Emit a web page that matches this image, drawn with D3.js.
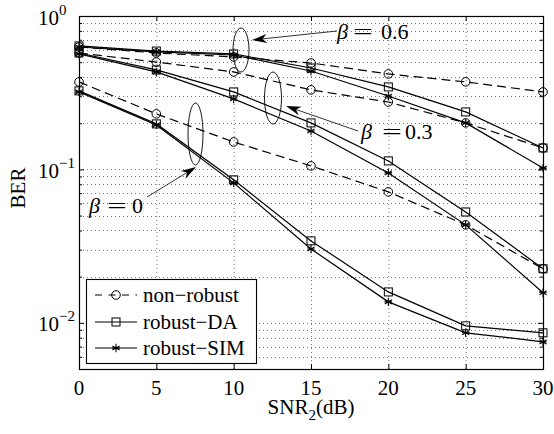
<!DOCTYPE html>
<html>
<head>
<meta charset="utf-8">
<script src="https://cdn.jsdelivr.net/npm/d3@7"></script>
<style>
  body { margin: 0; background: #fff; }
  text { font-family: "Liberation Serif", "Times New Roman", serif; fill: #000; }
</style>
</head>
<body>
<svg id="chart" width="554" height="434"></svg>
<script>
// data (BER vs SNR2)
const snr = [0, 5, 10, 15, 20, 25, 30];
const xTicks = [0, 5, 10, 15, 20, 25, 30];
const yMajor = [1, 0.1, 0.01];
const yExp = ["0", "\u22121", "\u22122"];

// beta = 0.6
const nonRobust06 = [0.628, 0.574, 0.541, 0.494, 0.419, 0.372, 0.320];
const robustDA06  = [0.638, 0.591, 0.566, 0.458, 0.345, 0.237, 0.138];
const robustSIM06 = [0.628, 0.583, 0.557, 0.438, 0.301, 0.201, 0.102];
// beta = 0.3
const nonRobust03 = [0.574, 0.501, 0.432, 0.330, 0.275, 0.201, 0.138];
const robustDA03  = [0.574, 0.445, 0.320, 0.201, 0.1136, 0.0528, 0.0225];
const robustSIM03 = [0.566, 0.432, 0.288, 0.178, 0.0949, 0.0435, 0.0157];
// beta = 0
const nonRobust0 = [0.372, 0.230, 0.151, 0.1054, 0.0714, 0.0435, 0.0225];
const robustDA0  = [0.325, 0.198, 0.0855, 0.0342, 0.0159, 0.00956, 0.00861];
const robustSIM0 = [0.320, 0.195, 0.0817, 0.0303, 0.0137, 0.00861, 0.00752];

const legendNames = ["non\u2212robust", "robust\u2212DA", "robust\u2212SIM"];

const svg = d3.select("#chart");
const pLeft = 79, pRight = 543, pTop = 16, pBottom = 369;

var x = d3.scaleLinear().domain([0, 30]).range([pLeft, pRight]);
var y = d3.scaleLog().domain([0.005, 1]).range([pBottom, pTop]);

// minor log ticks
var yMinor = [];
[0.001, 0.01, 0.1].forEach(function(d) {
  for (var k = 2; k <= 9; k++) {
    var v = d * k;
    if (v >= 0.005 && v < 1) yMinor.push(v);
  }
});
var yAll = yMajor.concat(yMinor);

// grid (dotted)
var grid = svg.append("g").attr("stroke", "#777").attr("stroke-width", 1).attr("stroke-dasharray", "1,3");
grid.selectAll("line.gx").data(xTicks.slice(1, -1)).enter().append("line")
  .attr("x1", d => x(d) + 0.5).attr("x2", d => x(d) + 0.5)
  .attr("y1", pTop).attr("y2", pBottom);
grid.selectAll("line.gy").data(yAll.filter(d => d < 1)).enter().append("line")
  .attr("x1", pLeft).attr("x2", pRight)
  .attr("y1", d => Math.round(y(d)) + 0.5).attr("y2", d => Math.round(y(d)) + 0.5);

// axes with inward ticks
function clean(g) { g.select(".domain").remove(); g.selectAll("text").remove(); g.selectAll("line").attr("stroke", "#000"); }
svg.append("g").attr("transform", "translate(0," + pBottom + ")")
  .call(d3.axisBottom(x).tickValues(xTicks).tickSizeInner(-5).tickSizeOuter(0)).call(clean);
svg.append("g").attr("transform", "translate(0," + pTop + ")")
  .call(d3.axisTop(x).tickValues(xTicks).tickSizeInner(-5).tickSizeOuter(0)).call(clean);
svg.append("g").attr("transform", "translate(" + pLeft + ",0)")
  .call(d3.axisLeft(y).tickValues(yMajor).tickSizeInner(-5).tickSizeOuter(0)).call(clean);
svg.append("g").attr("transform", "translate(" + pLeft + ",0)")
  .call(d3.axisLeft(y).tickValues(yMinor).tickSizeInner(-3).tickSizeOuter(0)).call(clean);
svg.append("g").attr("transform", "translate(" + pRight + ",0)")
  .call(d3.axisRight(y).tickValues(yMajor).tickSizeInner(-5).tickSizeOuter(0)).call(clean);
svg.append("g").attr("transform", "translate(" + pRight + ",0)")
  .call(d3.axisRight(y).tickValues(yMinor).tickSizeInner(-3).tickSizeOuter(0)).call(clean);

// frame
svg.append("rect").attr("x", pLeft + 0.5).attr("y", pTop + 0.5)
  .attr("width", pRight - pLeft).attr("height", pBottom - pTop)
  .attr("fill", "none").attr("stroke", "#000").attr("stroke-width", 1.2);

// tick labels
svg.selectAll("text.xt").data(xTicks).enter().append("text")
  .attr("x", d => x(d)).attr("y", 395).attr("text-anchor", "middle")
  .style("font-size", "21px").text(d => d);

yMajor.forEach(function(d, i) {
  var t = svg.append("text").attr("x", 38).attr("y", y(d) + 8.5).style("font-size", "21px");
  t.append("tspan").text("10");
  t.append("tspan").attr("dy", -10).style("font-size", "15px").text(yExp[i]);
});

// axis titles
var xl = svg.append("text").attr("x", 311).attr("y", 414).attr("text-anchor", "middle").style("font-size", "21px");
xl.append("tspan").text("SNR");
xl.append("tspan").attr("dy", 6).style("font-size", "15px").text("2");
xl.append("tspan").attr("dy", -6).text("(dB)");
svg.append("text").attr("transform", "translate(25,188) rotate(-90)")
  .attr("text-anchor", "middle").style("font-size", "21px").text("BER");

// series
const series = [
  { v: nonRobust06, dash: true,  m: "circle" },
  { v: robustDA06,  dash: false, m: "square" },
  { v: robustSIM06, dash: false, m: "star" },
  { v: nonRobust03, dash: true,  m: "circle" },
  { v: robustDA03,  dash: false, m: "square" },
  { v: robustSIM03, dash: false, m: "star" },
  { v: nonRobust0,  dash: true,  m: "circle" },
  { v: robustDA0,   dash: false, m: "square" },
  { v: robustSIM0,  dash: false, m: "star" }
];

var line = d3.line().x((d, i) => x(snr[i])).y(d => y(d));

function marker(g, type, cx, cy) {
  if (type === "circle") {
    g.append("circle").attr("cx", cx).attr("cy", cy).attr("r", 4.3)
      .attr("fill", "none").attr("stroke", "#000").attr("stroke-width", 1);
  } else if (type === "square") {
    g.append("rect").attr("x", cx - 4).attr("y", cy - 4).attr("width", 8).attr("height", 8)
      .attr("fill", "none").attr("stroke", "#000").attr("stroke-width", 1);
  } else {
    var r = 4.2, p = "";
    [90, 30, 150, 0].forEach(function(a) {
      var rad = a * Math.PI / 180;
      var rr = a === 0 ? r * 0.9 : r;
      p += "M" + (cx - rr * Math.cos(rad)) + "," + (cy - rr * Math.sin(rad)) +
           "L" + (cx + rr * Math.cos(rad)) + "," + (cy + rr * Math.sin(rad));
    });
    g.append("path").attr("d", p).attr("stroke", "#000").attr("stroke-width", 1.1).attr("fill", "none");
  }
}

var plot = svg.append("g");
series.forEach(function(s) {
  plot.append("path").datum(s.v).attr("d", line)
    .attr("fill", "none").attr("stroke", "#000").attr("stroke-width", 1.2)
    .attr("stroke-dasharray", s.dash ? "9,5" : null);
  s.v.forEach(function(d, i) { marker(plot, s.m, x(snr[i]), y(d)); });
});

// annotations: ellipses + arrows
var ann = svg.append("g");
[[241, 50, 8, 22], [273, 98, 8.5, 26], [195.5, 134, 7.5, 31]].forEach(function(e) {
  ann.append("ellipse").attr("cx", e[0]).attr("cy", e[1]).attr("rx", e[2]).attr("ry", e[3])
    .attr("fill", "none").attr("stroke", "#000").attr("stroke-width", 0.9);
});

function arrow(x1, y1, x2, y2) {
  var ang = Math.atan2(y2 - y1, x2 - x1), L = 15, W = 4.5;
  var bx = x2 - L * Math.cos(ang), by = y2 - L * Math.sin(ang);
  var mx = x2 - 0.7 * L * Math.cos(ang), my = y2 - 0.7 * L * Math.sin(ang);
  ann.append("line").attr("x1", x1).attr("y1", y1).attr("x2", mx).attr("y2", my)
    .attr("stroke", "#000").attr("stroke-width", 0.8);
  var px = -Math.sin(ang) * W, py = Math.cos(ang) * W;
  ann.append("path")
    .attr("d", "M" + x2 + "," + y2 + "L" + (bx + px) + "," + (by + py) + "L" + mx + "," + my +
               "L" + (bx - px) + "," + (by - py) + "Z")
    .attr("fill", "#000");
}
arrow(337, 31, 252, 40);
arrow(358, 131, 286, 106);
arrow(147, 197, 196, 167);

// beta labels; the "=" is stretched to look like the TeX one
function betaLabel(bx, ex, nx, base, val) {
  ann.append("text").attr("x", bx).attr("y", base).style("font-size", "22px")
    .style("font-style", "italic").text("\u03B2");
  ann.append("text").attr("transform", "translate(" + ex + "," + base + ") scale(1.6,1)")
    .style("font-size", "22px").text("=");
  ann.append("text").attr("x", nx).attr("y", base).style("font-size", "22px").text(val);
}
betaLabel(337, 353, 381, 39, "0.6");
betaLabel(361, 382, 405, 139, "0.3");
betaLabel(89, 107, 132, 213, "0");

// legend
var lg = svg.append("g");
lg.append("rect").attr("x", 86.5).attr("y", 279.5).attr("width", 170).attr("height", 84)
  .attr("fill", "#fff").attr("stroke", "#000").attr("stroke-width", 1.1);
var lys = [295, 322, 348];
var lmark = ["circle", "square", "star"];
legendNames.forEach(function(n, i) {
  lg.append("line").attr("x1", 95).attr("x2", 137).attr("y1", lys[i]).attr("y2", lys[i])
    .attr("stroke", "#000").attr("stroke-width", 1.2)
    .attr("stroke-dasharray", i === 0 ? "7,6.5" : null);
  marker(lg, lmark[i], 116, lys[i]);
  lg.append("text").attr("x", 143).attr("y", lys[i] + 7).style("font-size", "21px").text(n);
});
</script>
</body>
</html>
